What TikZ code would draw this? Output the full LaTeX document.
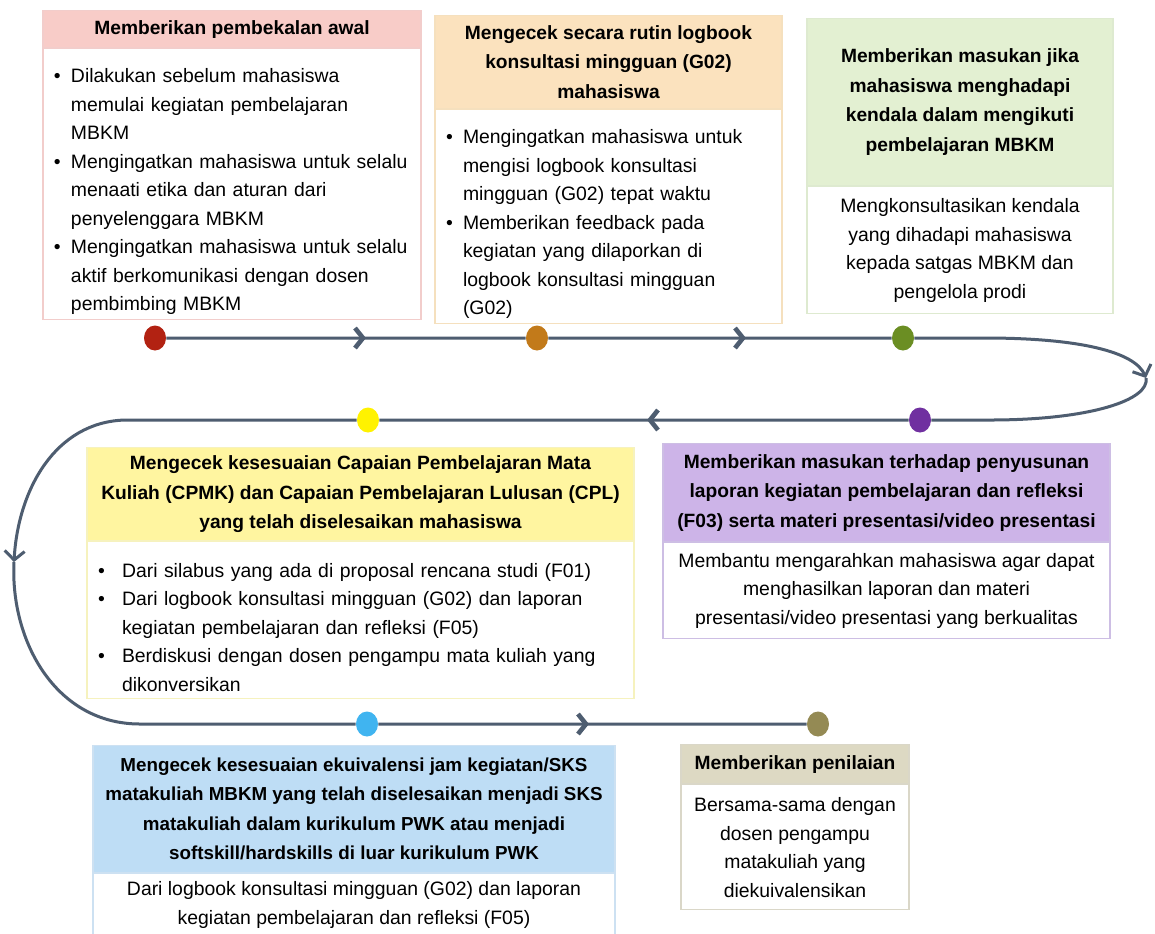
\documentclass[tikz,border=0pt]{standalone}
\usepackage{fontspec}
\setmainfont{Liberation Sans}
\usetikzlibrary{positioning,shapes.geometric,arrows.meta,backgrounds}

\definecolor{garis}{RGB}{78,93,112}
\definecolor{jdlmerah}{RGB}{248,204,200}
\definecolor{tpmerah}{RGB}{242,205,203}
\definecolor{jdloranye}{RGB}{251,226,190}
\definecolor{tporanye}{RGB}{245,224,190}
\definecolor{jdlhijau}{RGB}{227,240,210}
\definecolor{tphijau}{RGB}{222,234,208}
\definecolor{jdlkuning}{RGB}{255,245,160}
\definecolor{tpkuning}{RGB}{246,242,190}
\definecolor{jdlungu}{RGB}{205,180,232}
\definecolor{tpungu}{RGB}{205,190,228}
\definecolor{jdlbiru}{RGB}{190,221,245}
\definecolor{tpbiru}{RGB}{205,225,242}
\definecolor{jdlcoklat}{RGB}{221,217,195}
\definecolor{tpcoklat}{RGB}{218,215,200}
\definecolor{tkmerah}{RGB}{178,34,18}
\definecolor{tkoranye}{RGB}{194,122,26}
\definecolor{tkhijau}{RGB}{107,142,35}
\definecolor{tkungu}{RGB}{112,48,160}
\definecolor{tkkuning}{RGB}{255,242,0}
\definecolor{tkbiru}{RGB}{64,180,240}
\definecolor{tkcoklat}{RGB}{148,138,84}

\hyphenpenalty=10000
\newcommand{\butir}[2][8.5pt]{\par\noindent\hangindent=#1\makebox[#1][l]{\textbullet}#2\par}

\begin{document}
\begin{tikzpicture}[x=0.5pt,y=-0.5pt,
  judul/.style={inner sep=0pt, anchor=north, align=center, line width=0.6pt,
    font=\bfseries\fontsize{9.6}{14.75}\selectfont},
  isi/.style={draw, fill=white, line width=0.6pt, inner xsep=5.5pt, inner ysep=0pt,
    font=\fontsize{9.7}{14.25}\selectfont},
  titik/.style={ellipse, minimum width=11pt, minimum height=12.5pt, inner sep=0pt},
  alur/.style={draw=garis, line width=1.5pt},
  ujung/.style={-{Straight Barb[length=4.5pt,width=10pt]}},
  chevron/.style={draw=garis, line width=2.3pt}]
\useasboundingbox (0,0) rectangle (1155,933);

% kotak baris atas
\node[judul, fill=jdlmerah, draw=tpmerah, minimum width=189pt, minimum height=18.5pt] (h1) at (232,10)
  {Memberikan pembekalan awal};
\node[isi, draw=tpmerah, align=left, text width=178pt, minimum height=135.5pt, below=0pt of h1] (b1) {%
  \butir{Dilakukan sebelum mahasiswa\newline memulai kegiatan pembelajaran\newline MBKM}
  \butir{Mengingatkan mahasiswa untuk selalu\newline menaati etika dan aturan dari\newline penyelenggara MBKM}
  \butir{Mengingatkan mahasiswa untuk selalu\newline aktif berkomunikasi dengan dosen\newline pembimbing MBKM}};

\node[judul, fill=jdloranye, draw=tporanye, minimum width=173.5pt, minimum height=46.5pt] (h2) at (608.5,15)
  {Mengecek secara rutin logbook\\ konsultasi mingguan (G02)\\ mahasiswa};
\node[isi, draw=tporanye, align=left, text width=162.5pt, minimum height=107pt, below=0pt of h2] (b2) {%
  \butir{Mengingatkan mahasiswa untuk\newline mengisi logbook konsultasi\newline mingguan (G02) tepat waktu}
  \butir{Memberikan feedback pada\newline kegiatan yang dilaporkan di\newline logbook konsultasi mingguan\newline (G02)}};

\node[judul, fill=jdlhijau, draw=tphijau, minimum width=153pt, minimum height=83.5pt] (h3) at (960,18)
  {Memberikan masukan jika\\ mahasiswa menghadapi\\ kendala dalam mengikuti\\ pembelajaran MBKM};
\node[isi, draw=tphijau, align=center, minimum width=153pt, minimum height=63.5pt, below=0pt of h3] (b3)
  {Mengkonsultasikan kendala\\ yang dihadapi mahasiswa\\ kepada satgas MBKM dan\\ pengelola prodi};

% kotak baris tengah
\node[judul, fill=jdlkuning, draw=tpkuning, minimum width=273.5pt, minimum height=46.5pt] (h4) at (360.5,447)
  {Mengecek kesesuaian Capaian Pembelajaran Mata\\ Kuliah (CPMK) dan Capaian Pembelajaran Lulusan (CPL)\\ yang telah diselesaikan mahasiswa};
\node[isi, draw=tpkuning, align=left, text width=262.5pt, minimum height=78.5pt, below=0pt of h4] (b4) {%
  \butir[12pt]{Dari silabus yang ada di proposal rencana studi (F01)}
  \butir[12pt]{Dari logbook konsultasi mingguan (G02) dan laporan\newline kegiatan pembelajaran dan refleksi (F05)}
  \butir[12pt]{Berdiskusi dengan dosen pengampu mata kuliah yang\newline dikonversikan}};

\node[judul, fill=jdlungu, draw=tpungu, minimum width=223.5pt, minimum height=49pt] (h5) at (886.5,443)
  {Memberikan masukan terhadap penyusunan\\ laporan kegiatan pembelajaran dan refleksi\\ (F03) serta materi presentasi/video presentasi};
\node[isi, draw=tpungu, align=center, minimum width=223.5pt, minimum height=48pt, below=0pt of h5] (b5)
  {Membantu mengarahkan mahasiswa agar dapat\\ menghasilkan laporan dan materi\\ presentasi/video presentasi yang berkualitas};

% kotak baris bawah
\node[judul, fill=jdlbiru, draw=tpbiru, minimum width=261pt, minimum height=63.5pt,
  font=\bfseries\fontsize{9.4}{14.75}\selectfont] (h6) at (354,745)
  {Mengecek kesesuaian ekuivalensi jam kegiatan/SKS\\ matakuliah MBKM yang telah diselesaikan menjadi SKS\\ matakuliah dalam kurikulum PWK atau menjadi\\ softskill/hardskills di luar kurikulum PWK};
\node[isi, draw=tpbiru, align=center, minimum width=261pt, minimum height=31pt, below=0pt of h6] (b6)
  {Dari logbook konsultasi mingguan (G02) dan laporan\\ kegiatan pembelajaran dan refleksi (F05)};

\node[judul, fill=jdlcoklat, draw=tpcoklat, minimum width=114pt, minimum height=19.5pt] (h7) at (795,744)
  {Memberikan penilaian};
\node[isi, draw=tpcoklat, align=center, minimum width=114pt, minimum height=62.5pt, below=0pt of h7] (b7)
  {Bersama-sama dengan\\ dosen pengampu\\ matakuliah yang\\ diekuivalensikan};

% titik pada alur
\node[titik, fill=tkmerah] (d1) at (155,338) {};
\node[titik, fill=tkoranye] (d2) at (537,338) {};
\node[titik, fill=tkhijau] (d3) at (903,338) {};
\node[titik, fill=tkungu] (d5) at (920,420) {};
\node[titik, fill=tkkuning] (d4) at (368,420) {};
\node[titik, fill=tkbiru] (d6) at (367,724) {};
\node[titik, fill=tkcoklat] (d7) at (818,724) {};
\coordinate (kanan) at (1146,378);
\coordinate (kiri) at (14,562);

\begin{scope}[on background layer]
\fill[white] (0,0) rectangle (1155,933);
\draw[alur, ujung] (d1) -- (d2) -- (d3) -- (985,338) .. controls (1080,338) and (1135,352) .. (kanan);
\draw[alur, ujung] (kanan) .. controls (1150,400) and (1090,420) .. (990,420) -- (d5) -- (d4) -- (125,420)
  .. controls (55,422) and (18,490) .. (kiri);
\draw[alur] (kiri) .. controls (10,640) and (55,724) .. (140,724) -- (d6) -- (d7);
\end{scope}

\foreach \x/\y/\s in {363/338/1, 743/338/1, 650/420/-1, 586/724/1}{
  \draw[chevron] ({\x-8*\s},{\y-10}) -- (\x,\y) -- ({\x-8*\s},{\y+10});
}
\end{tikzpicture}
\end{document}
